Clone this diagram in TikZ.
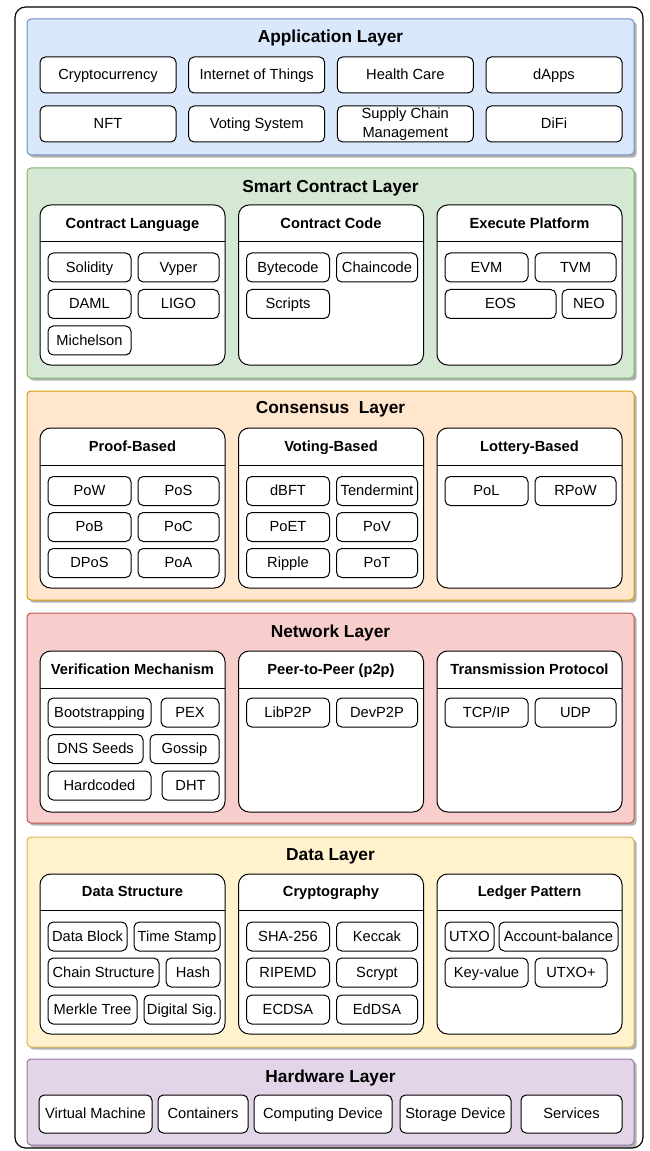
\documentclass[tikz,border=0pt]{standalone}
\usepackage{fontspec}
\setmainfont{Liberation Sans}
\usetikzlibrary{shadows}
\definecolor{appfill}{HTML}{DAE8FC}
\definecolor{appline}{HTML}{6C8EBF}
\definecolor{scfill}{HTML}{D5E8D4}
\definecolor{scline}{HTML}{82B366}
\definecolor{consfill}{HTML}{FFE6CC}
\definecolor{consline}{HTML}{D79B00}
\definecolor{netfill}{HTML}{F8CECC}
\definecolor{netline}{HTML}{B85450}
\definecolor{datafill}{HTML}{FFF2CC}
\definecolor{dataline}{HTML}{D6B656}
\definecolor{hwfill}{HTML}{E1D5E7}
\definecolor{hwline}{HTML}{9673A6}
\tikzset{
	chip/.style={draw=black, line width=0.75pt, fill=white, rounded corners=4pt,
		inner sep=0pt, align=center, text height=8pt, text depth=1pt,
		font=\fontsize{11}{14}\selectfont},
	panelbox/.style={draw=black, line width=0.75pt, fill=white, rounded corners=8pt},
	layerbox/.style={line width=0.75pt, rounded corners=3pt,
		drop shadow={shadow xshift=2pt, shadow yshift=-2pt, opacity=0.3, fill=black}},
	layertitle/.style={font=\bfseries\fontsize{13}{15}\selectfont, text height=9.5pt, text depth=1.2pt},
	paneltitle/.style={font=\bfseries\fontsize{11}{13}\selectfont, text height=8pt, text depth=1pt},
}
\newcommand{\chip}[6]{\node[chip, minimum width={(#4-#2)*0.75pt}, minimum height={(#5-#3)*0.75pt}] (#1) at ({(#2+#4)/2},{(#3+#5)/2}) {#6};}
\newcommand{\subpanel}[7]{\draw[panelbox] (#2,#3) rectangle (#4,#5);
	\draw[line width=0.75pt] (#2,#6) -- (#4,#6);
	\node[paneltitle] (#1) at ({(#2+#4)/2},{(#3+#6)/2}) {#7};}

\begin{document}
\begin{tikzpicture}[x=0.75pt, y=-0.75pt]
	\useasboundingbox (0,0) rectangle (649,1151);
	\draw[line width=0.9pt, rounded corners=8pt] (15,7) rectangle (643,1148);

	\draw[layerbox, draw=appline, fill=appfill] (27,19) rectangle (634,155);
	\node[layertitle] (apptitle) at (330.5,37) {Application Layer};
	\chip{crypto}{40}{57}{176}{93}{Cryptocurrency}
	\chip{iot}{188.7}{57}{324.7}{93}{Internet of Things}
	\chip{health}{337.3}{57}{473.3}{93}{Health Care}
	\chip{dapps}{486}{57}{622}{93}{dApps}
	\chip{nft}{40}{106}{176}{142}{NFT}
	\chip{voting}{188.7}{106}{324.7}{142}{Voting System}
	\node[chip, text height=, text depth=, minimum width={136*0.75pt}, minimum height={36*0.75pt}] (supply) at (405.3,124) {Supply Chain\\Management};
	\chip{difi}{486}{106}{622}{142}{DiFi}

	\draw[layerbox, draw=scline, fill=scfill] (27,168) rectangle (634,378);
	\node[layertitle] (sctitle) at (330.5,187) {Smart Contract Layer};
	\subpanel{language}{40}{205}{225}{365}{242}{Contract Language}
	\subpanel{code}{238.5}{205}{423.5}{365}{242}{Contract Code}
	\subpanel{platform}{437}{205}{622}{365}{242}{Execute Platform}
	\chip{solidity}{48}{253}{131}{282}{Solidity}
	\chip{vyper}{138}{253}{219}{282}{Vyper}
	\chip{daml}{48}{289.5}{131}{318.5}{DAML}
	\chip{ligo}{138}{289.5}{219}{318.5}{LIGO}
	\chip{michelson}{48}{326}{131}{355}{Michelson}
	\chip{bytecode}{246.5}{253}{329.5}{282}{Bytecode}
	\chip{chaincode}{336.5}{253}{417.5}{282}{Chaincode}
	\chip{scripts}{246.5}{289.5}{329.5}{318.5}{Scripts}
	\chip{evm}{445}{253}{528}{282}{EVM}
	\chip{tvm}{535}{253}{616}{282}{TVM}
	\chip{eos}{445}{289.5}{556}{318.5}{EOS}
	\chip{neo}{562}{289.5}{616}{318.5}{NEO}

	\draw[layerbox, draw=consline, fill=consfill] (27,391) rectangle (634,600);
	\node[layertitle] (constitle) at (330.5,408) {Consensus\ \ Layer};
	\subpanel{proof}{40}{428}{225}{588}{465}{Proof-Based}
	\subpanel{vote}{238.5}{428}{423.5}{588}{465}{Voting-Based}
	\subpanel{lottery}{437}{428}{622}{588}{465}{Lottery-Based}
	\chip{pow}{48}{476.5}{131}{505.5}{PoW}
	\chip{pos}{138}{476.5}{219}{505.5}{PoS}
	\chip{pob}{48}{512.5}{131}{541.5}{PoB}
	\chip{poc}{138}{512.5}{219}{541.5}{PoC}
	\chip{dpos}{48}{548.5}{131}{577.5}{DPoS}
	\chip{poa}{138}{548.5}{219}{577.5}{PoA}
	\chip{dbft}{246.5}{476.5}{329.5}{505.5}{dBFT}
	\chip{tendermint}{336.5}{476.5}{417.5}{505.5}{Tendermint}
	\chip{poet}{246.5}{512.5}{329.5}{541.5}{PoET}
	\chip{pov}{336.5}{512.5}{417.5}{541.5}{PoV}
	\chip{ripple}{246.5}{548.5}{329.5}{577.5}{Ripple}
	\chip{pot}{336.5}{548.5}{417.5}{577.5}{PoT}
	\chip{pol}{445}{476.5}{528}{505.5}{PoL}
	\chip{rpow}{535}{476.5}{616}{505.5}{RPoW}

	\draw[layerbox, draw=netline, fill=netfill] (27,613) rectangle (634,823);
	\node[layertitle] (nettitle) at (330.5,632) {Network Layer};
	\subpanel{verify}{40}{651}{225}{812}{688}{Verification Mechanism}
	\subpanel{ptop}{238.5}{651}{423.5}{812}{688}{Peer-to-Peer (p2p)}
	\subpanel{transmit}{437}{651}{622}{812}{688}{Transmission Protocol}
	\chip{bootstrap}{48}{698}{151}{727}{Bootstrapping}
	\chip{pex}{161}{698}{219}{727}{PEX}
	\chip{dns}{48}{734.5}{143}{763.5}{DNS Seeds}
	\chip{gossip}{150}{734.5}{219}{763.5}{Gossip}
	\chip{hardcoded}{48}{771}{151}{800}{Hardcoded}
	\chip{dht}{162}{771}{219}{800}{DHT}
	\chip{libptop}{246.5}{698}{329.5}{727}{LibP2P}
	\chip{devptop}{336.5}{698}{417.5}{727}{DevP2P}
	\chip{tcpip}{445}{698}{528}{727}{TCP/IP}
	\chip{udp}{535}{698}{616}{727}{UDP}

	\draw[layerbox, draw=dataline, fill=datafill] (27,837) rectangle (634,1047);
	\node[layertitle] (datatitle) at (330.5,855) {Data Layer};
	\subpanel{structure}{40}{874}{225}{1034}{910}{Data Structure}
	\subpanel{cryptography}{238.5}{874}{423.5}{1034}{910}{Cryptography}
	\subpanel{ledger}{437}{874}{622}{1034}{910}{Ledger Pattern}
	\chip{block}{48}{922}{127}{951}{Data Block}
	\chip{stamp}{134}{922}{220}{951}{Time Stamp}
	\chip{chain}{48}{958}{159}{987}{Chain Structure}
	\chip{hash}{166}{958}{220}{987}{Hash}
	\chip{merkle}{48}{995}{137}{1024}{Merkle Tree}
	\chip{digsig}{144}{995}{220}{1024}{Digital Sig.}
	\chip{sha}{246.5}{922}{329.5}{951}{SHA-256}
	\chip{keccak}{336.5}{922}{417.5}{951}{Keccak}
	\chip{ripemd}{246.5}{958}{329.5}{987}{RIPEMD}
	\chip{scrypt}{336.5}{958}{417.5}{987}{Scrypt}
	\chip{ecdsa}{246.5}{995}{329.5}{1024}{ECDSA}
	\chip{eddsa}{336.5}{995}{417.5}{1024}{EdDSA}
	\chip{utxo}{445}{922}{494}{951}{UTXO}
	\chip{account}{499}{922}{618}{951}{Account-balance}
	\chip{keyvalue}{445}{958}{528}{987}{Key-value}
	\chip{utxoplus}{535}{958}{607}{987}{UTXO+}

	\draw[layerbox, draw=hwline, fill=hwfill] (27,1059) rectangle (634,1145);
	\node[layertitle] (hwtitle) at (330.5,1077) {Hardware Layer};
	\chip{vm}{39}{1095}{152}{1133}{Virtual Machine}
	\chip{containers}{158}{1095}{248}{1133}{Containers}
	\chip{computing}{254}{1095}{392}{1133}{Computing Device}
	\chip{storage}{400}{1095}{511}{1133}{Storage Device}
	\chip{services}{521}{1095}{622}{1133}{Services}
\end{tikzpicture}
\end{document}
